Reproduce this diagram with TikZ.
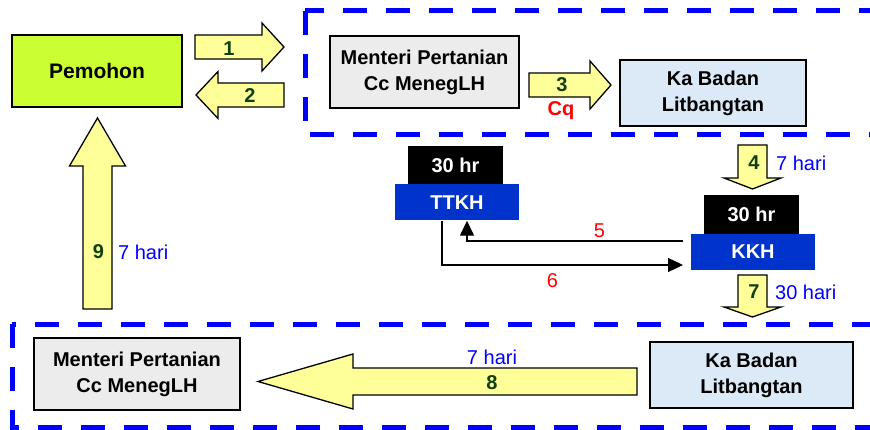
\documentclass[tikz,border=0pt]{standalone}
\usepackage{fontspec}
\setmainfont{Liberation Sans}
\usepackage{xcolor}
\usetikzlibrary{arrows.meta}
\definecolor{limegrn}{HTML}{CCFF33}
\definecolor{pale}{HTML}{FFFF99}
\definecolor{numgrn}{HTML}{0F400F}
\definecolor{kkhblue}{HTML}{0033CC}
\definecolor{greybox}{HTML}{ECECEC}
\definecolor{skybox}{HTML}{DCEAF8}
\newcommand{\bigfont}{\fontsize{20}{26}\selectfont}
\tikzset{
  box/.style={draw,line width=1.3pt,align=center,font=\bigfont\bfseries,inner sep=0pt},
  tag/.style={fill=black,text=white,font=\bigfont\bfseries,minimum width=95pt,minimum height=39pt,inner sep=0pt},
  unit/.style={fill=kkhblue,text=white,font=\bigfont\bfseries,minimum width=124pt,minimum height=36pt,inner sep=0pt},
  barrow/.style={draw,fill=pale,line width=1.3pt,line join=miter},
  num/.style={text=numgrn,font=\bigfont\bfseries,inner sep=0pt},
  days/.style={text=blue,font=\bigfont,inner sep=0pt},
  lab/.style={text=red,font=\bigfont,inner sep=0pt},
  dbox/.style={draw=blue,line width=5pt,dash pattern=on 24pt off 19pt},
  arr/.style={-{Triangle[length=15pt,width=14pt]},line width=1.3pt},
}
% block arrows: tail, tip, centre line, body half width, head half width, head base
\newcommand{\harrow}[6]{\draw[barrow] (#1,#3-#4) -- (#6,#3-#4) -- (#6,#3-#5) -- (#2,#3) -- (#6,#3+#5) -- (#6,#3+#4) -- (#1,#3+#4) -- cycle;}
\newcommand{\varrow}[6]{\draw[barrow] (#3-#4,#1) -- (#3-#4,#6) -- (#3-#5,#6) -- (#3,#2) -- (#3+#5,#6) -- (#3+#4,#6) -- (#3+#4,#1) -- cycle;}

\begin{document}
\begin{tikzpicture}[x=1pt,y=-1pt]
\useasboundingbox (0,0) rectangle (870,430);
\clip (0,0) rectangle (870,430);
% dashed groups
\draw[dbox] (305,11) rectangle (900,135);
\draw[dbox] (12,324) rectangle (900,427);
% boxes
\node[box,fill=limegrn,minimum width=170pt,minimum height=72pt,font=\fontsize{21}{26}\selectfont\bfseries] (pem) at (97,71) {Pemohon};
\node[box,fill=greybox,minimum width=189pt,minimum height=72pt] (men1) at (424.5,72) {Menteri Pertanian\\Cc MenegLH};
\node[box,fill=skybox,minimum width=186pt,minimum height=66pt] (ka1) at (713,93) {Ka Badan\\Litbangtan};
\node[box,fill=greybox,minimum width=206pt,minimum height=72pt] (men2) at (137,374) {Menteri Pertanian\\Cc MenegLH};
\node[box,fill=skybox,minimum width=203pt,minimum height=66pt] (ka2) at (751.5,375) {Ka Badan\\Litbangtan};
\node[tag] (hr1) at (455.5,165.5) {30 hr};
\node[unit] (ttkh) at (457,202.5) {TTKH};
\node[tag] (hr2) at (751.5,214.5) {30 hr};
\node[unit] (kkh) at (753,252) {KKH};
% block arrows
\harrow{195}{284}{47}{12}{24}{262}
\harrow{284}{196}{95}{12}{23.5}{218}
\harrow{529}{611}{85}{12}{24}{590}
\harrow{637}{258}{381.5}{13.5}{27.5}{353}
\varrow{145}{189}{752.5}{14.5}{28.5}{178}
\varrow{275}{317}{752.5}{14.5}{28.5}{307}
\varrow{309}{118}{97.5}{14.5}{28}{166}
\node[num] (n1) at (229,49) {1};
\node[num] (n2) at (250,96) {2};
\node[num] (n3) at (562,85) {3};
\node[text=red,font=\bigfont\bfseries,inner sep=0pt] (cq) at (561,111) {Cq};
\node[num] (n4) at (754,163) {4};
\node[days,anchor=west] (d4) at (776,163) {7 hari};
\node[num] (n7) at (754,292) {7};
\node[days,anchor=west] (d7) at (775,292) {30 hari};
\node[num] (n9) at (98.5,252) {9};
\node[days,anchor=west] (d9) at (118,252) {7 hari};
\node[days] (d8) at (492,357) {7 hari};
\node[num] (n8) at (492,383) {8};
% thin connectors
\coordinate (k5) at (683,241);
\coordinate (k6) at (683,265);
\draw[arr] (k5) -| ([xshift=10pt]ttkh.south);
\draw[arr] ([xshift=-15pt]ttkh.south) |- (k6);
\node[lab] (l5) at (599.5,231) {5};
\node[lab] (l6) at (552.5,280.5) {6};
\end{tikzpicture}
\end{document}
